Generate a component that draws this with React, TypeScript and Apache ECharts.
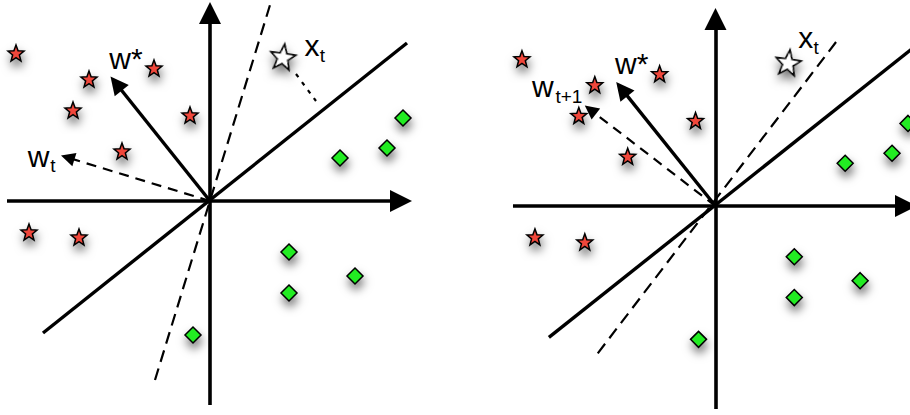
import React, { useEffect, useRef } from "react";
import * as echarts from "echarts";

// ---- data (units: 1 unit = 50 px, origin at axes crossing, y up) ----
const redStars: number[][] = [
  [-3.88, 2.96], [-2.42, 2.44], [-1.12, 2.66], [-2.74, 1.82],
  [-0.4, 1.72], [-1.76, 1.0], [-3.62, -0.62], [-2.62, -0.72],
];
const greenDiamonds: number[][] = [
  [3.86, 1.66], [3.54, 1.06], [2.6, 0.86], [1.58, -1.02],
  [2.9, -1.5], [1.58, -1.84], [-0.34, -2.68],
];
const xT: number[] = [1.46, 2.89];
const wStar: number[] = [-1.99, 2.49];
const wT: number[] = [-2.98, 0.91];
const wT1: number[] = [-2.62, 2.02];
const origin: number[] = [0, 0];
const xAxisLine: number[][] = [[-4.06, 0], [4.04, 0]];
const yAxisLine: number[][] = [[0, -4.08], [0, 3.98]];
const separator: number[][] = [[-3.34, -2.64], [3.94, 3.16]];
const dashedSepLeft: number[][] = [[-1.1, -3.58], [1.2, 3.92]];
const dashedSepRight: number[][] = [[-2.36, -2.96], [2.42, 3.3]];
const projection: number[][] = [[1.72, 2.54], [2.12, 2.0]];
const labelsLeft = [
  { text: "w*", pos: [-1.68, 2.86], size: 30 },
  { text: "x", pos: [2.04, 3.11], size: 30 },
  { text: "t", pos: [2.25, 2.92], size: 19 },
  { text: "w", pos: [-3.43, 0.89], size: 30 },
  { text: "t", pos: [-3.14, 0.71], size: 19 },
];
const labelsRight = [
  { text: "w*", pos: [-1.68, 2.86], size: 30 },
  { text: "x", pos: [1.81, 3.39], size: 30 },
  { text: "t", pos: [2.02, 3.18], size: 19 },
  { text: "w", pos: [-3.46, 2.41], size: 30 },
  { text: "t+1", pos: [-2.94, 2.21], size: 19 },
];

const PX = 50;
const STAR =
  "path://M0,-10 L2.469,-3.398 L9.511,-3.09 L3.994,1.298 L5.878,8.09 L0,4.2 L-5.878,8.09 L-3.994,1.298 L-9.511,-3.09 L-2.469,-3.398 Z";

function arrow(from: number[], tip: number[], sizePx: number) {
  const dx = tip[0] - from[0];
  const dy = tip[1] - from[1];
  const len = Math.hypot(dx, dy);
  const k = sizePx / 2 / PX / len;
  return { coords: [from, [tip[0] - dx * k, tip[1] - dy * k]] };
}

const shadow = {
  shadowBlur: 10,
  shadowColor: "rgba(0,0,0,0.55)",
  shadowOffsetX: 1,
  shadowOffsetY: 6,
};

function panelSeries(p: number) {
  const ax = { xAxisIndex: p, yAxisIndex: p, silent: true };
  const linesBase = {
    ...ax,
    type: "lines",
    coordinateSystem: "cartesian2d",
    z: 2,
  };
  const series: any[] = [
    {
      ...linesBase,
      symbol: ["none", "triangle"],
      symbolSize: 22,
      lineStyle: { color: "#000", width: 3.6, opacity: 1, type: "solid" },
      data: [arrow(xAxisLine[0], xAxisLine[1], 22), arrow(yAxisLine[0], yAxisLine[1], 22)],
    },
    {
      ...linesBase,
      symbol: "none",
      lineStyle: { color: "#000", width: 3.4, opacity: 1, type: "solid" },
      data: [{ coords: separator }],
    },
    {
      ...linesBase,
      symbol: ["none", "triangle"],
      symbolSize: 18,
      lineStyle: { color: "#000", width: 3.4, opacity: 1, type: "solid" },
      data: [arrow(origin, wStar, 18)],
    },
    {
      ...linesBase,
      symbol: ["none", "triangle"],
      symbolSize: 14,
      lineStyle: { color: "#000", width: 2.2, opacity: 1, type: [10, 7] },
      data: [arrow(origin, p === 0 ? wT : wT1, 14)],
    },
    {
      ...linesBase,
      symbol: "none",
      lineStyle: { color: "#000", width: 2.2, opacity: 1, type: [12, 7] },
      data: [{ coords: p === 0 ? dashedSepLeft : dashedSepRight }],
    },
    {
      ...ax,
      type: "scatter",
      symbol: STAR,
      symbolSize: 16,
      itemStyle: { color: "#f0463a", borderColor: "#000", borderWidth: 1.5, opacity: 1, ...shadow },
      data: redStars,
      z: 3,
    },
    {
      ...ax,
      type: "scatter",
      symbol: "diamond",
      symbolSize: 16,
      itemStyle: { color: "#22ec22", borderColor: "#000", borderWidth: 1.5, opacity: 1, ...shadow },
      data: greenDiamonds,
      z: 3,
    },
    {
      ...ax,
      type: "scatter",
      symbol: STAR,
      symbolSize: 25,
      symbolRotate: -8,
      itemStyle: { color: "#fff", borderColor: "#000", borderWidth: 1.7, opacity: 1, ...shadow },
      data: [xT],
      z: 3,
    },
    {
      ...ax,
      type: "scatter",
      symbolSize: 1,
      itemStyle: { color: "rgba(0,0,0,0)", opacity: 1 },
      label: {
        show: true,
        position: "inside",
        color: "#000",
        opacity: 1,
        fontFamily: "Liberation Sans",
      },
      data: (p === 0 ? labelsLeft : labelsRight).map((l) => ({
        value: l.pos,
        label: { formatter: l.text, fontSize: l.size },
      })),
      z: 4,
    },
  ];
  if (p === 0) {
    series.push({
      ...linesBase,
      symbol: "none",
      lineStyle: { color: "#000", width: 2.2, opacity: 1, type: [4, 6] },
      data: [{ coords: projection }],
    });
  }
  return series;
}

export default function App() {
  const ref = useRef<HTMLDivElement>(null);
  useEffect(() => {
    document.body.style.margin = "0";
    if (!ref.current) return;
    const chart = echarts.init(ref.current, undefined, { renderer: "svg" });
    const hiddenAxis = {
      type: "value",
      show: false,
      splitLine: { show: false },
    };
    chart.setOption({
      animation: false,
      backgroundColor: "#fff",
      grid: [
        { left: 0, top: 1, width: 420, height: 410 },
        { left: 506, top: 7, width: 405, height: 410 },
      ],
      xAxis: [
        { ...hiddenAxis, gridIndex: 0, min: -4.2, max: 4.2 },
        { ...hiddenAxis, gridIndex: 1, min: -4.2, max: 3.9 },
      ],
      yAxis: [
        { ...hiddenAxis, gridIndex: 0, min: -4.2, max: 4.0 },
        { ...hiddenAxis, gridIndex: 1, min: -4.2, max: 4.0 },
      ],
      series: [...panelSeries(0), ...panelSeries(1)],
    });
    return () => chart.dispose();
  }, []);
  return <div ref={ref} style={{ width: 910, height: 415 }} />;
}
